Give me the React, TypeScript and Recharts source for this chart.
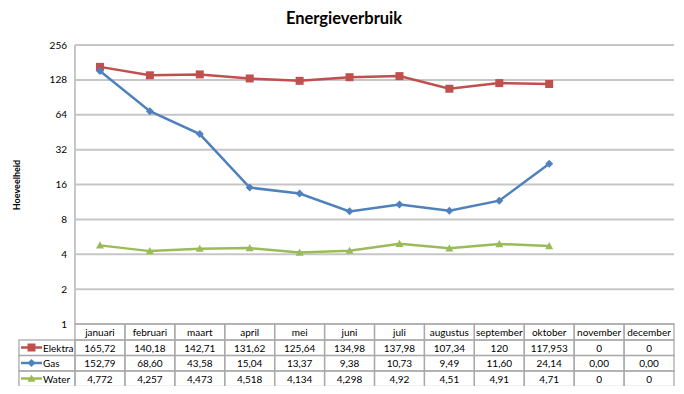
import { LineChart, Line, XAxis, YAxis, CartesianGrid } from 'recharts';

const months = ['januari', 'februari', 'maart', 'april', 'mei', 'juni', 'juli', 'augustus', 'september', 'oktober', 'november', 'december'];
const elektra = [165.72, 140.18, 142.71, 131.62, 125.64, 134.98, 137.98, 107.34, 120, 117.953, 0, 0];
const gas = [152.79, 68.6, 43.58, 15.04, 13.37, 9.38, 10.73, 9.49, 11.6, 24.14, 0, 0];
const water = [4.772, 4.257, 4.473, 4.518, 4.134, 4.298, 4.92, 4.51, 4.91, 4.71, 0, 0];
const yTicks = [1, 2, 4, 8, 16, 32, 64, 128, 256];

const RED = '#C0504D';
const BLUE = '#4F81BD';
const GREEN = '#9BBB59';
const FONT = 'Lato, "Open Sans", sans-serif';
const GRID = '#c6c6c6';
const CELL = '#a9a9a9';
const COL = 599 / 12;

// log axis can't show 0, Excel just leaves those months out
const data = months.map((m, i) => ({
  month: m,
  elektra: elektra[i] > 0 ? elektra[i] : null,
  gas: gas[i] > 0 ? gas[i] : null,
  water: water[i] > 0 ? water[i] : null,
}));

const comma = (v: number) => String(v).replace('.', ',');
const rows = [
  { name: 'Elektra', color: RED, shape: 'square', text: elektra.map(comma) },
  { name: 'Gas', color: BLUE, shape: 'diamond', text: gas.map((v) => v.toFixed(2).replace('.', ',')) },
  { name: 'Water', color: GREEN, shape: 'triangle', text: water.map(comma) },
];

function Marker({ shape, cx, cy, color, size = 4 }: any) {
  if (shape === 'square')
    return <rect x={cx - size} y={cy - size} width={size * 2} height={size * 2} fill={color} />;
  if (shape === 'diamond')
    return <path d={`M${cx},${cy - size} L${cx + size},${cy} L${cx},${cy + size} L${cx - size},${cy} Z`} fill={color} />;
  return <path d={`M${cx},${cy - size} L${cx + size},${cy + size * 0.8} L${cx - size},${cy + size * 0.8} Z`} fill={color} />;
}

const makeDot = (shape: string, color: string) => (p: any) => {
  if (p.cy == null || p.value == null) return <g key={p.key} />;
  return <Marker key={p.key} shape={shape} cx={p.cx} cy={p.cy} color={color} />;
};

const ROW_H = 15.5;

function TableTick(props: any) {
  const { x, y, index } = props;
  const top = y;
  const left = x - COL / 2;
  const rowTop = [top + 16, top + 16 + ROW_H, top + 16 + ROW_H * 2];
  return (
    <g fontFamily={FONT} fontSize={10} fill="#000">
      <rect x={left} y={top} width={COL} height={16} fill="none" stroke={CELL} strokeWidth={1.3} />
      <text x={x} y={top + 12} textAnchor="middle">{months[index]}</text>
      {rows.map((r, ri) => (
        <g key={r.name}>
          <rect x={left} y={rowTop[ri]} width={COL} height={ROW_H} fill="none" stroke={CELL} strokeWidth={1.3} />
          <text x={x} y={rowTop[ri] + 11.5} textAnchor="middle">{r.text[index]}</text>
        </g>
      ))}
      {index === 0 &&
        rows.map((r, ri) => (
          <g key={'lg' + r.name}>
            <rect x={19} y={rowTop[ri]} width={left - 19} height={ROW_H} fill="none" stroke={CELL} strokeWidth={1.3} />
            <line x1={21} x2={42} y1={rowTop[ri] + 7.5} y2={rowTop[ri] + 7.5} stroke={r.color} strokeWidth={2.5} />
            <Marker shape={r.shape} cx={31.5} cy={rowTop[ri] + 7.5} color={r.color} />
            <text x={43} y={rowTop[ri] + 11.5}>{r.name}</text>
          </g>
        ))}
    </g>
  );
}

const AxisTitle = () => (
  <text x={20} y={185} transform="rotate(-90 20 185)" textAnchor="middle" fontFamily={FONT} fontSize={9} fontWeight="bold" fill="#000">
    Hoeveelheid
  </text>
);

export default function App() {
  return (
    <div style={{ position: 'relative', width: 684, height: 394, margin: -8, background: '#fff', fontFamily: FONT }}>
      <div style={{ position: 'absolute', top: 8, left: 0, width: 688, textAlign: 'center', fontSize: 16.5, fontWeight: 'bold' }}>
        Energieverbruik
      </div>
      <LineChart width={684} height={394} data={data} margin={{ top: 45, right: 10, bottom: 0, left: 35 }}>
        <CartesianGrid vertical={false} stroke={GRID} strokeWidth={2} />
        <XAxis
          dataKey="month"
          padding={{ left: COL / 2, right: COL / 2 }}
          axisLine={false}
          tickLine={false}
          tickSize={0}
          tickMargin={0}
          height={70}
          interval={0}
          tick={<TableTick />}
        />
        <YAxis
          scale="log"
          domain={[1, 256]}
          ticks={yTicks}
          allowDataOverflow
          width={40}
          axisLine={{ stroke: GRID, strokeWidth: 2 }}
          tickLine={false}
          tick={{ fontSize: 10, fill: '#000', fontFamily: FONT }}
          label={<AxisTitle />}
        />
        <Line dataKey="elektra" stroke={RED} strokeWidth={2.5} dot={makeDot('square', RED)} isAnimationActive={false} />
        <Line dataKey="gas" stroke={BLUE} strokeWidth={2.5} dot={makeDot('diamond', BLUE)} isAnimationActive={false} />
        <Line dataKey="water" stroke={GREEN} strokeWidth={2.5} dot={makeDot('triangle', GREEN)} isAnimationActive={false} />
      </LineChart>
      <div style={{ position: 'absolute', left: 0, top: 389, width: 684, height: 2, background: '#c8c8c8' }} />
    </div>
  );
}
